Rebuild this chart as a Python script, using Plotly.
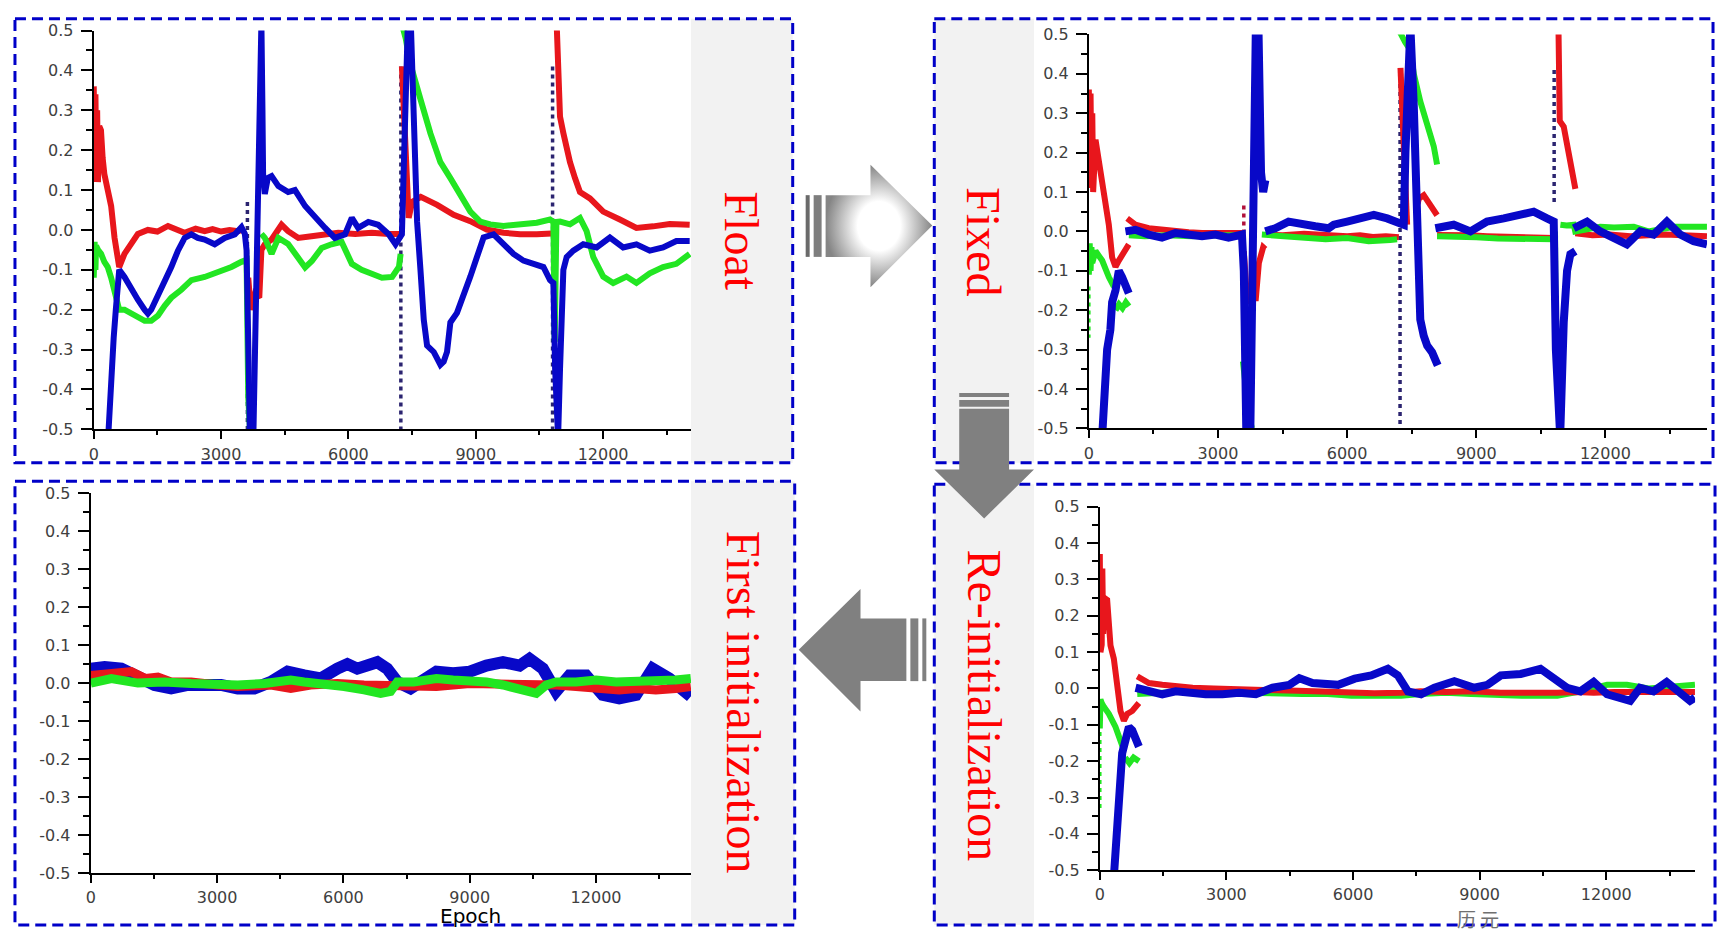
import plotly.graph_objects as go

W, H = 1721, 939
RED, GREEN, BLUE = '#e8161c', '#22e622', '#0808c8'
DARK = '#2b2470'

# ---------------- Panel "Float" (top-left) ----------------
float_red_x = [0, 20, 40, 60, 80, 100, 130, 170, 210, 250, 330, 410, 490, 567, 600, 724, 882, 1040, 1275, 1500, 1750, 2000, 2140, 2400, 2614, 2800, 3000, 3200, 3400, 3560,
               None, 3640, 3700, 3800, 3900, 3950, 4030, 4190, 4425, 4580, 4820, 5130, 5450, 5760, 6160, 6550, 6950, 7230,
               None, 7260, 7340, 7420, 7500, 7705, 8090, 8480, 8870, 9262, 9654, 10046, 10437, 10790,
               None, 10905, 10950, 10985, 11064, 11142, 11220, 11338, 11455, 11690, 12003, 12395, 12786, 13178, 13570, 14040]
float_red_y = [0.36, 0.12, 0.34, 0.15, 0.30, 0.12, 0.26, 0.25, 0.18, 0.14, 0.10, 0.06, -0.02, -0.077, -0.093, -0.06, -0.035, -0.01, 0.0, -0.004, 0.01, -0.002, -0.007, 0.003, -0.003, 0.002, -0.004, 0.0, -0.003, 0.002,
               None, -0.12, -0.2, -0.16, -0.17, -0.05, -0.036, -0.024, 0.013, -0.003, -0.02, -0.016, -0.01, -0.007, -0.01, -0.007, -0.01, -0.01,
               None, 0.41, 0.22, 0.03, 0.07, 0.083, 0.063, 0.038, 0.022, 0.001, -0.007, -0.011, -0.011, -0.009,
               None, 0.52, 0.33, 0.284, 0.243, 0.20, 0.17, 0.13, 0.095, 0.079, 0.046, 0.026, 0.005, 0.009, 0.015, 0.013]
float_green_x = [0, 20, 40, 55, 100, 173, 250, 330, 410, 490, 600, 724, 882, 1040, 1200, 1354, 1512, 1670, 1827, 2063, 2300, 2614, 2930, 3244, 3480, 3600, 3640, 3680, 3720, 3750,
                 None, 3950, 4030, 4190, 4350, 4580, 4820, 4980, 5140, 5370, 5600, 5840, 6080, 6310, 6550, 6790, 7030, 7190, 7230,
                 None, 7250, 7350, 7450, 7540, 7705, 7932, 8167, 8402, 8637, 8872, 9107, 9342, 9654, 10046, 10437, 10750, 10830, 10860, 10900,
                 10985, 11220, 11455, 11612, 11768, 12003, 12238, 12551, 12786, 13100, 13413, 13726, 14040]
float_green_y = [-0.12, -0.03, -0.10, -0.04, -0.05, -0.06, -0.08, -0.093, -0.12, -0.15, -0.2, -0.2, -0.21, -0.22, -0.228, -0.228, -0.215, -0.19, -0.17, -0.15, -0.126, -0.118, -0.106, -0.093, -0.08, -0.075, -0.42, -0.5, -0.45, -0.52,
                 None, -0.01, -0.02, -0.06, -0.02, -0.035, -0.07, -0.094, -0.078, -0.045, -0.036, -0.03, -0.085, -0.10, -0.11, -0.12, -0.118, -0.093, -0.06,
                 None, 0.52, 0.48, 0.42, 0.39, 0.325, 0.242, 0.17, 0.13, 0.087, 0.046, 0.021, 0.014, 0.01, 0.014, 0.018, 0.026, 0.02, -0.28, 0.02,
                 0.021, 0.014, 0.03, -0.003, -0.068, -0.117, -0.133, -0.117, -0.133, -0.109, -0.093, -0.085, -0.06]
float_blue_x = [340, 380, 420, 470, 520, 567, 600, 724, 882, 1040, 1197, 1276, 1354, 1512, 1670, 1827, 1984, 2142, 2300, 2450, 2614, 2850, 3087, 3323, 3480, 3560, 3600, 3640, 3680,
                None, 3760, 3800, 3850, 3890, 3920, 3950, 3975, 3990, 4030, 4100, 4190, 4350, 4580, 4740, 4980, 5220, 5450, 5680, 5920, 6080, 6230, 6470, 6700, 6950, 7110, 7260,
                7340, 7400, 7470, 7540, 7618, 7697, 7775, 7853, 8010, 8167, 8245, 8323, 8402, 8558, 8715, 8872, 9028, 9185, 9420, 9654, 9889, 10124, 10359, 10594, 10750, 10829, 10870, 10900,
                10940, 10985, 11064, 11142, 11298, 11533, 11846, 12160, 12473, 12786, 13100, 13413, 13726, 14040]
float_blue_y = [-0.52, -0.42, -0.33, -0.27, -0.2, -0.14, -0.1, -0.118, -0.15, -0.175, -0.2, -0.21, -0.2, -0.167, -0.126, -0.093, -0.052, -0.02, -0.011, -0.02, -0.024, -0.036, -0.02, -0.011, 0.007, -0.01, -0.05, -0.3, -0.52,
                None, -0.52, -0.3, 0.0, 0.35, 0.52, 0.52, 0.3, 0.14, 0.09, 0.13, 0.135, 0.11, 0.095, 0.10, 0.06, 0.03, 0.005, -0.02, -0.011, 0.03, 0.005, 0.02, 0.013, -0.011, -0.036, -0.011,
                0.3, 0.52, 0.52, 0.31, 0.02, -0.1, -0.225, -0.29, -0.306, -0.338, -0.33, -0.306, -0.232, -0.208, -0.167, -0.117, -0.068, -0.019, -0.011, -0.036, -0.06, -0.077, -0.085, -0.093, -0.126, -0.133, -0.35, -0.52,
                -0.52, -0.35, -0.1, -0.068, -0.052, -0.036, -0.044, -0.019, -0.044, -0.036, -0.052, -0.044, -0.028, -0.028]
float_jump_x = [3620, 3620, None, 7235, 7235, None, 10810, 10810]
float_jump_y = [0.07, -0.5, None, 0.41, -0.5, None, 0.41, -0.5]

# ---------------- Panel "Fixed" (top-right) ----------------
fixed_red_x = [0, 20, 40, 60, 80, 100, 155, 232, 310, 387, 464, 541, 619, 696, 773, 850, 928,
               None, 890, 1082, 1392, 1700, 2010, 2320, 2630, 2940, 3250, 3557,
               None, 3600, 3680, 3780, 3880, 3950, 4050, 4100,
               None, 4150, 4500, 5000, 5500, 6000, 6300, 6600, 6900, 7200,
               None, 7240, 7316, 7355, 7394,
               None, 7640, 7665, 7780, 7935, 8090,
               None, 8090, 8477, 8865, 9250, 9640, 10025, 10335, 10645, 10800,
               None, 10910, 10940, 11033, 11110, 11187, 11303,
               None, 11300, 11700, 12100, 12580, 13000, 13400, 13800, 14360]
fixed_red_y = [0.36, 0.11, 0.35, 0.13, 0.30, 0.10, 0.233, 0.175, 0.117, 0.083, 0.017, -0.066, -0.09, -0.074, -0.058, -0.049, -0.033,
               None, 0.033, 0.017, 0.008, 0.004, 0.0, -0.002, -0.004, -0.005, -0.004, -0.004,
               None, -0.05, -0.18, -0.17, -0.17, -0.08, -0.04, -0.045,
               None, -0.008, -0.01, -0.006, -0.01, -0.012, -0.01, -0.014, -0.012, -0.015,
               None, 0.415, 0.233, 0.066, 0.017,
               None, 0.07, 0.083, 0.092, 0.066, 0.041,
               None, -0.009, -0.008, -0.01, -0.012, -0.014, -0.016, -0.017, -0.016, -0.017,
               None, 0.52, 0.28, 0.266, 0.216, 0.166, 0.108,
               None, -0.005, -0.01, -0.008, -0.012, -0.01, -0.008, -0.01, -0.012]
fixed_green_x = [0, 20, 40, 60, 80, 155, 310, 464, 541, 580,
                 None, 620, 700, 780, 860, 930,
                 None, 930, 1300, 1800, 2400, 3000, 3550,
                 None, 3580, 3650, 3720, 3790,
                 None, 4020, 4500, 5000, 5500, 6000, 6500, 7000, 7160,
                 None, 7160, 7250, 7350, 7470, 7550, 7700, 7860, 8013, 8090,
                 None, 8090, 8500, 9000, 9500, 10000, 10500, 10800,
                 None, 10830, 10840,
                 None, 10955, 11100, 11265, 11300, 11880, 12200, 12660, 13000, 13600, 14000, 14360]
fixed_green_y = [-0.11, -0.03, -0.1, -0.04, -0.08, -0.05, -0.074, -0.116, -0.132, -0.14,
                 None, -0.2, -0.185, -0.195, -0.18, -0.19,
                 None, -0.01, -0.012, -0.01, -0.012, -0.01, -0.01,
                 None, -0.33, -0.42, -0.47, -0.5,
                 None, -0.008, -0.012, -0.015, -0.02, -0.017, -0.025, -0.022, -0.02,
                 None, 0.52, 0.5, 0.48, 0.46, 0.4, 0.33, 0.275, 0.216, 0.17,
                 None, -0.012, -0.015, -0.015, -0.018, -0.02, -0.02, -0.02,
                 None, 0.0, -0.215,
                 None, 0.017, 0.015, 0.017, 0.0, 0.012, 0.01, 0.012, 0.0, 0.012, 0.01, 0.012]
fixed_blue_x = [310, 370, 425, 500, 541, 619, 696, 773, 850, 928,
                None, 850, 1082, 1392, 1700, 2010, 2320, 2630, 2940, 3247, 3557, 3600, 3660,
                None, 3750, 3800, 3850, 3880, 3940, 3970, 4000, 4050, 4100,
                None, 4100, 4330, 4640, 4950, 5260, 5570, 5690, 6000, 6310, 6620, 6930, 7160, 7316,
                7355, 7420, 7470, 7550, 7626, 7665, 7700, 7780, 7860, 7975, 8050, 8105,
                None, 8050, 8477, 8865, 9250, 9640, 10025, 10335, 10645, 10800, 10850, 10900, 10950, 11033, 11110, 11187, 11303,
                None, 11265, 11574, 11880, 12190, 12500, 12810, 13120, 13430, 13740, 14050, 14360]
fixed_blue_y = [-0.52, -0.4, -0.3, -0.25, -0.18, -0.15, -0.1, -0.116, -0.132, -0.157,
                None, 0.0, 0.004, -0.008, -0.016, -0.004, -0.008, -0.012, -0.008, -0.016, -0.008, -0.1, -0.52,
                None, -0.52, -0.2, 0.2, 0.52, 0.52, 0.3, 0.15, 0.1, 0.13,
                None, 0.0, 0.008, 0.025, 0.017, 0.013, 0.008, 0.017, 0.025, 0.033, 0.042, 0.033, 0.025, 0.017,
                0.2, 0.52, 0.52, 0.316, -0.016, -0.14, -0.224, -0.265, -0.29, -0.307, -0.323, -0.34,
                None, 0.008, 0.017, 0.0, 0.025, 0.033, 0.042, 0.05, 0.033, 0.025, -0.3, -0.52, -0.52, -0.23, -0.1, -0.058, -0.05,
                None, 0.008, 0.025, 0.0, -0.016, -0.033, 0.0, -0.008, 0.025, -0.008, -0.025, -0.033]
fixed_jump_red_x = [3600, 3600]
fixed_jump_red_y = [0.066, -0.2]
fixed_jump_x = [7230, 7230, None, 10810, 10810]
fixed_jump_y = [0.415, -0.5, None, 0.41, 0.07]
fixed_jump_green_x = [0, 0]
fixed_jump_green_y = [-0.14, -0.27]

# ---------------- Panel "Re-initialization" (bottom-right) ----------------
reinit_red_x = [0, 15, 30, 45, 60, 80, 100, 174, 253, 332, 411, 490, 570, 649, 768, 926,
                None, 887, 1164, 1480, 1797, 2200, 2700, 3200, 3700, 4200, 4700, 5200, 5960, 6500, 7140, 7600, 8200, 8800, 9500, 10000, 10840, 11300, 11700, 12200, 12800, 13400, 14100]
reinit_red_y = [0.37, 0.10, 0.36, 0.12, 0.33, 0.15, 0.25, 0.244, 0.118, 0.082, -0.008, -0.062, -0.089, -0.07, -0.062, -0.04,
                None, 0.033, 0.015, 0.01, 0.005, 0.002, 0.0, -0.003, -0.002, -0.005, -0.006, -0.008, -0.012, -0.013, -0.012, -0.008, -0.01, -0.008, -0.012, -0.013, -0.012, -0.01, -0.012, -0.01, -0.01, -0.012, -0.01]
reinit_green_x = [0, 15, 30, 45, 95, 214, 372, 490, 570,
                  None, 600, 700, 800, 930,
                  None, 887, 1300, 1800, 2400, 3000, 3600, 4200, 4800, 5400, 5960, 6500, 7140, 7600, 8200, 8800, 9500, 10000, 10840, 11300, 12020, 12490, 13000, 13900, 14100]
reinit_green_y = [-0.11, -0.03, -0.09, -0.04, -0.05, -0.07, -0.106, -0.142, -0.17,
                  None, -0.19, -0.205, -0.19, -0.2,
                  None, -0.015, -0.012, -0.01, -0.01, -0.012, -0.01, -0.012, -0.015, -0.015, -0.02, -0.02, -0.02, -0.015, -0.012, -0.015, -0.02, -0.02, -0.02, -0.01, 0.01, 0.01, 0.0, 0.01, 0.01]
reinit_blue_x = [332, 411, 451, 490, 530, 610, 689, 768, 847, 926,
                 None, 847, 1164, 1480, 1797, 2114, 2509, 2905, 3300, 3697, 4093, 4488, 4726, 5040, 5360, 5646, 6040, 6430, 6826, 7060, 7300, 7612, 7927, 8400, 8870, 9185, 9500, 9970, 10440, 10760, 11070, 11387, 11700, 12016, 12330, 12566, 12800, 13117, 13430, 13746, 13982, 14100]
reinit_blue_y = [-0.52, -0.385, -0.295, -0.25, -0.178, -0.142, -0.106, -0.115, -0.142, -0.16,
                 None, 0.002, -0.008, -0.016, -0.008, -0.012, -0.016, -0.016, -0.012, -0.016, 0.002, 0.01, 0.028, 0.015, 0.01, 0.01, 0.027, 0.036, 0.054, 0.036, -0.008, -0.016, 0.002, 0.02, 0.002, 0.01, 0.036, 0.04, 0.054, 0.027, 0.002, -0.008, 0.018, -0.016, -0.025, -0.034, 0.002, -0.008, 0.018, -0.016, -0.034, -0.025]
reinit_jump_green_x = [0, 0]
reinit_jump_green_y = [-0.12, -0.33]

# ---------------- Panel "First initialization" (bottom-left) ----------------
first_blue_x = [0, 330, 726, 1120, 1515, 1910, 2305, 2700, 3095, 3490, 3884, 4280, 4674, 5070, 5463, 5858, 6095, 6330, 6648, 6805, 7040, 7280, 7595, 7816, 8210, 8605, 9000, 9395, 9790, 10184, 10420, 10737, 11050, 11370, 11763, 12158, 12550, 12948, 13342, 13737, 14130, 14250]
first_blue_y = [0.038, 0.042, 0.038, 0.012, -0.005, -0.014, -0.005, -0.005, -0.005, -0.014, -0.014, 0.003, 0.03, 0.02, 0.012, 0.038, 0.05, 0.038, 0.046, 0.055, 0.038, 0.003, -0.014, 0.003, 0.03, 0.026, 0.03, 0.046, 0.055, 0.046, 0.064, 0.038, -0.022, 0.02, 0.02, -0.031, -0.04, -0.031, 0.038, 0.012, -0.031, -0.035]
first_red_x = [0, 330, 963, 1300, 1595, 1910, 2384, 3016, 3490, 4280, 4750, 5220, 5858, 6490, 7040, 7420, 8210, 9000, 9790, 10180, 10580, 11050, 11526, 12000, 12550, 12948, 13420, 13890, 14250]
first_red_y = [0.02, 0.025, 0.03, 0.012, 0.016, 0.003, 0.003, -0.005, -0.009, -0.005, -0.014, -0.005, -0.001, -0.005, -0.005, -0.005, -0.009, -0.001, -0.001, -0.001, -0.005, -0.005, -0.009, -0.014, -0.018, -0.014, -0.018, -0.014, -0.009]
first_green_x = [0, 490, 1120, 1752, 2384, 3016, 3490, 4120, 4750, 5070, 5540, 6016, 6490, 6884, 7120, 7280, 7670, 8210, 8605, 9000, 9395, 9790, 10184, 10580, 10816, 11050, 11526, 12000, 12474, 12948, 13420, 13890, 14250]
first_green_y = [0.0, 0.012, 0.0, 0.003, -0.001, -0.005, -0.005, -0.001, 0.008, 0.003, -0.001, -0.009, -0.018, -0.027, -0.022, 0.003, 0.003, 0.012, 0.008, 0.008, 0.003, -0.005, -0.014, -0.027, -0.005, 0.003, 0.003, 0.008, 0.003, 0.003, 0.008, 0.008, 0.012]

# ---------------- Ticks and labels ----------------
x_tick_vals = [0, 3000, 6000, 9000, 12000]
x_tick_text = ['0', '3000', '6000', '9000', '12000']
x_minor_vals = [1500, 4500, 7500, 10500, 13500]
y_tick_vals = [-0.5, -0.4, -0.3, -0.2, -0.1, 0.0, 0.1, 0.2, 0.3, 0.4, 0.5]
y_tick_text = ['-0.5', '-0.4', '-0.3', '-0.2', '-0.1', '0.0', '0.1', '0.2', '0.3', '0.4', '0.5']
y_minor_vals = [-0.45, -0.35, -0.25, -0.15, -0.05, 0.05, 0.15, 0.25, 0.35, 0.45]
panel_labels = ['Float', 'Fixed', 'First initialization', 'Re-initialization']


def fx(p):
    return p / W


def fy(p):
    return 1 - p / H


fig = go.Figure()


def line(x, y, color, ax, width, dash=None):
    fig.add_trace(go.Scatter(x=x, y=y, mode='lines', xaxis='x' + ax, yaxis='y' + ax,
                             line=dict(color=color, width=width, dash=dash),
                             showlegend=False, hoverinfo='skip'))


DOTS = '4px,4px'
# Float (axis '')
line(float_jump_x, float_jump_y, DARK, '', 3.5, DOTS)
line(float_red_x, float_red_y, RED, '', 6)
line(float_green_x, float_green_y, GREEN, '', 6)
line(float_blue_x, float_blue_y, BLUE, '', 6)
# Fixed (axis '2')
line(fixed_jump_red_x, fixed_jump_red_y, '#b0103a', '2', 3.5, DOTS)
line(fixed_jump_x, fixed_jump_y, DARK, '2', 3.5, DOTS)
line(fixed_jump_green_x, fixed_jump_green_y, GREEN, '2', 3.5, DOTS)
line(fixed_red_x, fixed_red_y, RED, '2', 6)
line(fixed_green_x, fixed_green_y, GREEN, '2', 6)
line(fixed_blue_x, fixed_blue_y, BLUE, '2', 8)
# First initialization (axis '3')
line(first_blue_x, first_blue_y, BLUE, '3', 12)
line(first_red_x, first_red_y, RED, '3', 9)
line(first_green_x, first_green_y, GREEN, '3', 9)
# Re-initialization (axis '4')
line(reinit_jump_green_x, reinit_jump_green_y, GREEN, '4', 3.5, DOTS)
line(reinit_green_x, reinit_green_y, GREEN, '4', 6)
line(reinit_red_x, reinit_red_y, RED, '4', 6)
line(reinit_blue_x, reinit_blue_y, BLUE, '4', 8)

# gradient arrow (overlay axis in pixel units)
fig.add_trace(go.Scatter(
    x=[823, 868, 868, 930, 868, 868, 823, 823], y=[190, 190, 159, 221, 284, 253, 253, 190],
    mode='lines', fill='toself', line=dict(width=0, color='rgba(0,0,0,0)'),
    fillgradient=dict(type='radial', colorscale=[[0, '#ffffff'], [0.4, '#ffffff'], [1, '#858585']]),
    xaxis='x5', yaxis='y5', showlegend=False, hoverinfo='skip'))

tickfont = dict(family='DejaVu Sans', size=16, color='#404040')


def xa(d0, d1, rmax, anchor):
    return dict(domain=[fx(d0), fx(d1)], range=[0, rmax], anchor=anchor,
                showline=True, linecolor='black', linewidth=2, mirror=False,
                showgrid=False, zeroline=False, ticks='outside', ticklen=8, tickwidth=2,
                tickcolor='black', tickmode='array', tickvals=x_tick_vals, ticktext=x_tick_text,
                tickfont=tickfont, ticklabelstandoff=1,
                minor=dict(ticks='outside', ticklen=4, tickwidth=1.5, tickcolor='black',
                           tickmode='array', tickvals=x_minor_vals),
                fixedrange=True)


def ya(d0, d1, anchor):
    return dict(domain=[fy(d1), fy(d0)], range=[-0.5, 0.5], anchor=anchor,
                showline=True, linecolor='black', linewidth=2, mirror=False,
                showgrid=False, zeroline=False, ticks='outside', ticklen=11, tickwidth=2,
                tickcolor='black', tickmode='array', tickvals=y_tick_vals, ticktext=y_tick_text,
                tickfont=tickfont, ticklabelstandoff=4,
                minor=dict(ticks='outside', ticklen=6, tickwidth=1.5, tickcolor='black',
                           tickmode='array', tickvals=y_minor_vals),
                fixedrange=True)


shapes = []
# gray label boxes
for (x0, y0, x1, y1) in [(688, 10, 790, 463), (932, 10, 1032, 463), (688, 482, 792, 935), (932, 485, 1032, 935)]:
    shapes.append(dict(type='rect', xref='x5', yref='y5', x0=x0, x1=x1, y0=y0, y1=y1,
                       fillcolor='#f2f2f2', line=dict(width=0), layer='below'))
# dashed panel borders
for (x0, y0, x1, y1) in [(10, 10, 790, 463), (932, 10, 1713, 463), (10, 482, 792, 935), (932, 485, 1715, 935)]:
    shapes.append(dict(type='rect', xref='x5', yref='y5', x0=x0, x1=x1, y0=y0, y1=y1,
                       line=dict(color='#0000c8', width=3, dash='11px,6px'), layer='above'))
GRAY = '#808080'
# bars of the gradient arrow
shapes.append(dict(type='rect', xref='x5', yref='y5', x0=803, x1=807, y0=190, y1=253,
                   fillcolor='#6a6a6a', line=dict(width=0), layer='above'))
shapes.append(dict(type='rect', xref='x5', yref='y5', x0=811, x1=819, y0=190, y1=253,
                   fillcolor='#7e7e7e', line=dict(width=0), layer='above'))
# down arrow
shapes.append(dict(type='path', xref='x5', yref='y5',
                   path='M957,408 L1007,408 L1007,470 L1032,470 L982,520 L932,470 L957,470 Z',
                   fillcolor=GRAY, line=dict(width=0), layer='above'))
shapes.append(dict(type='rect', xref='x5', yref='y5', x0=957, x1=1007, y0=392, y1=396,
                   fillcolor=GRAY, line=dict(width=0), layer='above'))
shapes.append(dict(type='rect', xref='x5', yref='y5', x0=957, x1=1007, y0=399, y1=406,
                   fillcolor=GRAY, line=dict(width=0), layer='above'))
# left arrow
shapes.append(dict(type='path', xref='x5', yref='y5',
                   path='M796,654 L858,592 L858,622 L904,622 L904,686 L858,686 L858,717 Z',
                   fillcolor=GRAY, line=dict(width=0), layer='above'))
shapes.append(dict(type='rect', xref='x5', yref='y5', x0=908, x1=916, y0=622, y1=686,
                   fillcolor=GRAY, line=dict(width=0), layer='above'))
shapes.append(dict(type='rect', xref='x5', yref='y5', x0=920, x1=924, y0=622, y1=686,
                   fillcolor=GRAY, line=dict(width=0), layer='above'))

label_font = dict(family='Liberation Serif', size=48, color='#ff0000')
annotations = []
for text, (cx, cy) in zip(panel_labels, [(739, 237), (982, 237), (740, 708), (982, 711)]):
    annotations.append(dict(text=text, x=fx(cx), y=fy(cy), xref='paper', yref='paper',
                            textangle=90, showarrow=False, font=label_font,
                            xanchor='center', yanchor='middle'))
annotations.append(dict(text='Epoch', x=fx(467), y=fy(926), xref='paper', yref='paper',
                        showarrow=False, font=dict(family='DejaVu Sans', size=20, color='black'),
                        xanchor='center', yanchor='middle'))
annotations.append(dict(text='历 元', x=fx(1477), y=fy(928), xref='paper', yref='paper',
                        showarrow=False, font=dict(family='Noto Sans CJK SC', size=19, color='#707070'),
                        xanchor='center', yanchor='middle'))

fig.update_layout(
    width=W, height=H, margin=dict(l=0, r=0, t=0, b=0),
    paper_bgcolor='white', plot_bgcolor='rgba(0,0,0,0)',
    showlegend=False,
    xaxis=xa(89, 688, 14071, 'y'), yaxis=ya(22, 429, 'x'),
    xaxis2=xa(1087, 1707, 14362, 'y2'), yaxis2=ya(26, 428, 'x2'),
    xaxis3=xa(86, 688, 14255, 'y3'), yaxis3=ya(494, 882, 'x3'),
    xaxis4=xa(1098, 1695, 14103, 'y4'), yaxis4=ya(508, 879, 'x4'),
    xaxis5=dict(domain=[0, 1], range=[0, W], visible=False, fixedrange=True, anchor='y5'),
    yaxis5=dict(domain=[0, 1], range=[H, 0], visible=False, fixedrange=True, anchor='x5'),
    shapes=shapes, annotations=annotations,
)

fig.write_html('out.html', config={'displayModeBar': False},
               post_script="document.body.style.margin='0';document.body.style.overflow='hidden';")
